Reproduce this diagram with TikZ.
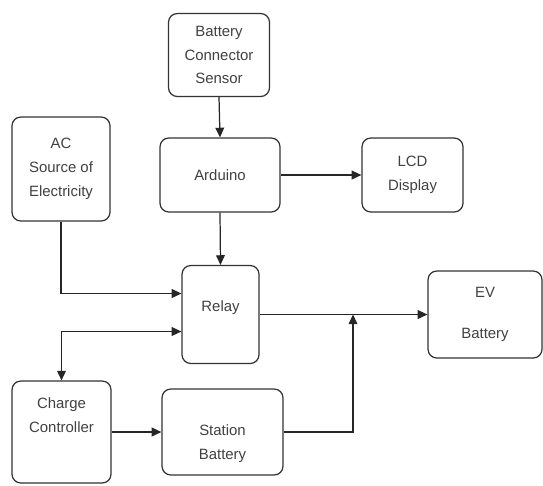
\documentclass[tikz,border=0pt]{standalone}
\usepackage{fontspec}
\setmainfont{Liberation Sans}
\usetikzlibrary{arrows.meta}

\begin{document}
\begin{tikzpicture}[x=0.02cm, y=-0.02cm,
        block/.style={draw=black!80, line width=0.7pt, rounded corners=5pt,
            align=center, text=black!75, font=\fontsize{8.5}{13.5}\selectfont},
        wire/.style={draw=black!85, line width=0.7pt, -{Triangle[length=5.5pt, width=5pt]}}]
            \useasboundingbox (0, 0) rectangle (543, 485);
            \node[block, minimum width=2.02cm, minimum height=1.66cm] (sensor) at (219, 55) {Battery\\Connector\\Sensor};
            \node[block, minimum width=1.96cm, minimum height=2.08cm] (ac) at (61, 169) {AC\\Source of\\Electricity};
            \node[block, minimum width=2.4cm, minimum height=1.48cm] (arduino) at (220, 175) {Arduino};
            \node[block, minimum width=2.02cm, minimum height=1.48cm] (lcd) at (412.5, 175) {LCD\\Display};
            \node[block, minimum width=1.54cm, minimum height=1.96cm, text depth=0.35cm] (relay) at (220.5, 314.5) {Relay};
            \node[block, minimum width=2.28cm, minimum height=1.74cm] (ev) at (485, 314.5) {EV\\[0.35cm]Battery};
            \node[block, minimum width=1.98cm, minimum height=2.04cm] (charger) at (61.5, 432) {Charge\\Controller\\[0.2cm]};
            \node[block, minimum width=2.42cm, minimum height=1.72cm] (station) at (222.5, 432) {\\[0.2cm]Station\\Battery};
            \coordinate (tap) at (353, 314.5);
            \draw[wire] (sensor.south) -- (arduino.north);
            \draw[wire] (arduino.east) -- (lcd.west);
            \draw[wire] (arduino.south) -- (relay.north);
            \draw[wire] (ac.south) |- ([yshift=0.42cm]relay.west);
            \draw[wire, {Triangle[length=5.5pt, width=5pt]}-{Triangle[length=5.5pt, width=5pt]}] (charger.north) |- ([yshift=-0.34cm]relay.west);
            \draw[wire] (charger.east) -- (station.west);
            \draw[wire] (relay.east) -- (ev.west);
            \draw[wire] (station.east) -| (tap);
        \end{tikzpicture}
\end{document}
